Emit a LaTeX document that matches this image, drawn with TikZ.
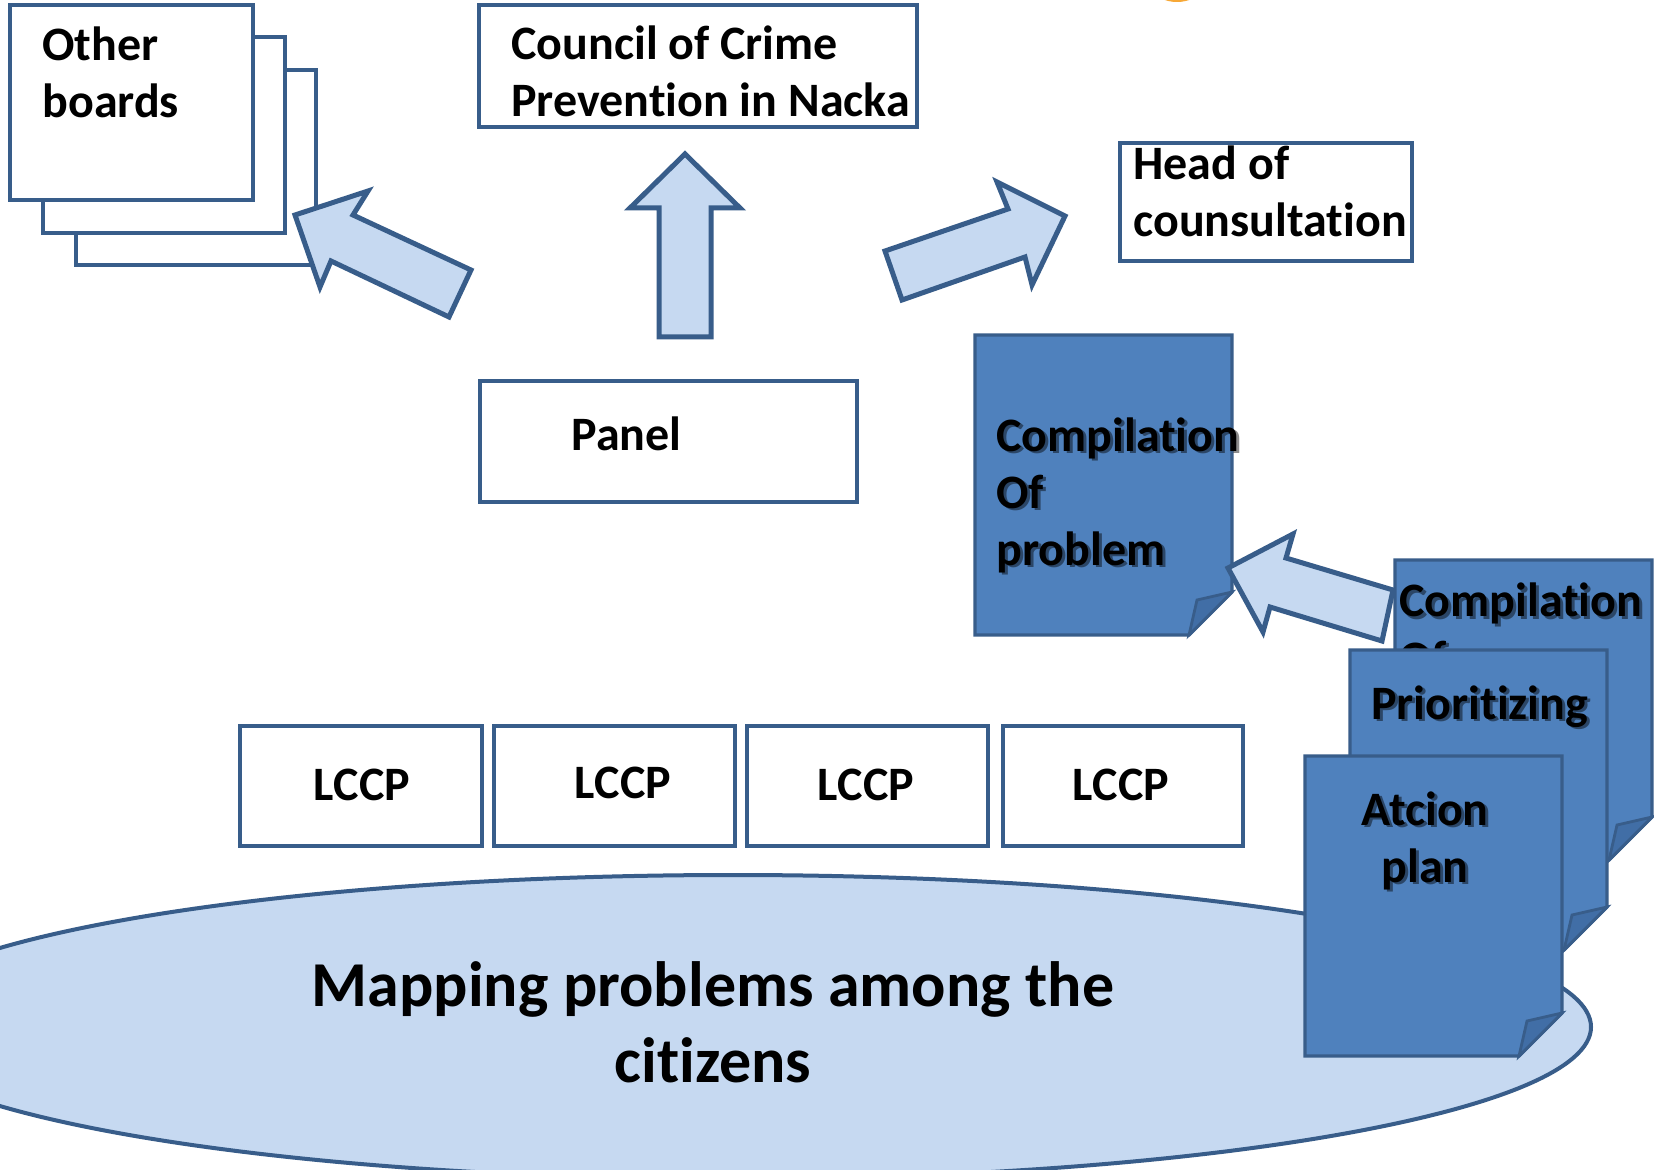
\documentclass[tikz,border=0pt]{standalone}
\usepackage{fontspec}
\setmainfont{Carlito}[Ligatures=NoCommon]
\usetikzlibrary{fit,shapes.geometric,calc}
\definecolor{edge}{HTML}{385D8A}
\definecolor{lightfill}{HTML}{C6D9F1}
\definecolor{docblue}{HTML}{4F81BD}
\definecolor{flapblue}{HTML}{416EA6}
\definecolor{blob}{HTML}{F7A836}
\newcommand\leftlines[1]{\begin{tabular}[t]{@{}l@{}}#1\end{tabular}}
\newcommand\midlines[1]{\begin{tabular}[t]{@{}c@{}}#1\end{tabular}}
\begin{document}
\begin{tikzpicture}[x=0.5pt,y=-0.5pt,
  font=\fontsize{24}{28.5}\selectfont\bfseries,
  box/.style={draw=edge, line width=2pt, fill=white, rectangle, inner sep=0pt},
  barrow/.style={draw=edge, line width=2.5pt, fill=lightfill, line join=miter},
  txt/.style={inner sep=0pt, anchor=base west, text=black},
  ctxt/.style={inner sep=0pt, anchor=base, text=black},
  shadowtxt/.style={inner sep=0pt, text=black, opacity=0.45},
  paper/.pic={
    \draw[draw=edge, line width=1.6pt, fill=docblue, line join=miter]
      (0,0) -- (257,0) -- (257,257) -- (214,300) -- (0,300) -- cycle;
    \draw[draw=edge, line width=1.4pt, fill=flapblue, line join=miter]
      (214,300) -- (222,265) -- (257,257) -- cycle;
  }]
\useasboundingbox (0,0) rectangle (1654,1170);
\clip (0,0) rectangle (1654,1170);
\fill[white] (0,0) rectangle (1654,1170);

% small orange shape at the top edge
\fill[blob] (1177,-10) ellipse [x radius=11pt, y radius=6pt];

% ground ellipse
\node[ellipse, draw=edge, line width=2pt, fill=lightfill, inner sep=0pt,
      minimum width=858pt, minimum height=152pt] (map) at (733,1027) {};
\node[ctxt, font=\fontsize{32}{38}\selectfont\bfseries] (maptext) at (713,1006)
  {\midlines{Mapping problems among the\\citizens}};

% Other boards stack
\node[box, fit={(76,70) (316,265)}] (ob3) {};
\node[box, fit={(43,37) (285,233)}] (ob2) {};
\node[box, fit={(10,5) (253,200)}] (ob1) {};
\node[txt] (obtext) at (42,61) {\leftlines{Other\\boards}};

% Council
\node[box, fit={(479,5) (917,127)}] (council) {};
\node[txt] (counciltext) at (511,60) {\leftlines{Council of Crime\\Prevention in Nacka}};

% Head of consultation
\node[box, fit={(1120,143) (1412,261)}] (head) {};
\node[txt] (headtext) at (1133,180) {\leftlines{Head of\\counsultation}};

% Panel
\node[box, fit={(480,381) (857,502)}] (panel) {};
\node[txt] (paneltext) at (571,451) {Panel};

% LCCP boxes
\node[box, fit={(240,726) (482,846)}] (l1) {};
\node[box, fit={(494,726) (735,846)}] (l2) {};
\node[box, fit={(747,726) (988,846)}] (l3) {};
\node[box, fit={(1003,726) (1243,846)}] (l4) {};
\node[ctxt] (l1t) at (362,800) {LCCP};
\node[ctxt] (l2t) at (623,798) {LCCP};
\node[ctxt] (l3t) at (866,800) {LCCP};
\node[ctxt] (l4t) at (1121,800) {LCCP};

% Compilation of problem document
\pic (docA) at (975,335) {paper};
\node[shadowtxt, anchor=base west] at (999,454) {\leftlines{Compilation\\Of\\problem}};
\node[txt] (docAtext) at (996,452) {\leftlines{Compilation\\Of\\problem}};

% stacked documents
\pic (docB) at (1395,560) {paper};
\node[shadowtxt, anchor=base west] at (1402,619) {\leftlines{Compilation\\Of}};
\node[txt] (docBtext) at (1399,617) {\leftlines{Compilation\\Of}};
\pic (docC) at (1350,650) {paper};
\node[shadowtxt, anchor=base west] at (1374,721) {Prioritizing};
\node[txt] (docCtext) at (1371,719) {Prioritizing};
\pic (docD) at (1305,756) {paper};
\node[shadowtxt, anchor=base] at (1428,827) {\midlines{Atcion\\plan}};
\node[ctxt] (docDtext) at (1425,825) {\midlines{Atcion\\plan}};

% block arrows
\draw[barrow] (295,215) coordinate (a1tip) -- (368,191) -- (353,215) -- (471,270)
  -- (449,317) coordinate (a1tail) -- (331,261) -- (320,287) -- cycle;
\draw[barrow] (685,154) coordinate (a2tip) -- (740,208) -- (711,208) -- (711,337)
  -- (659,337) coordinate (a2tail) -- (659,208) -- (630,208) -- cycle;
\draw[barrow] (885,251) coordinate (a3tail) -- (1008,209) -- (997,182)
  -- (1065,216) coordinate (a3tip) -- (1032,285) -- (1025,257) -- (902,300) -- cycle;
\draw[barrow] (1228,568) coordinate (a4tip) -- (1293,534) -- (1286,558) -- (1393,590)
  -- (1382,641) coordinate (a4tail) -- (1270,607) -- (1263,632) -- cycle;
\end{tikzpicture}
\end{document}
